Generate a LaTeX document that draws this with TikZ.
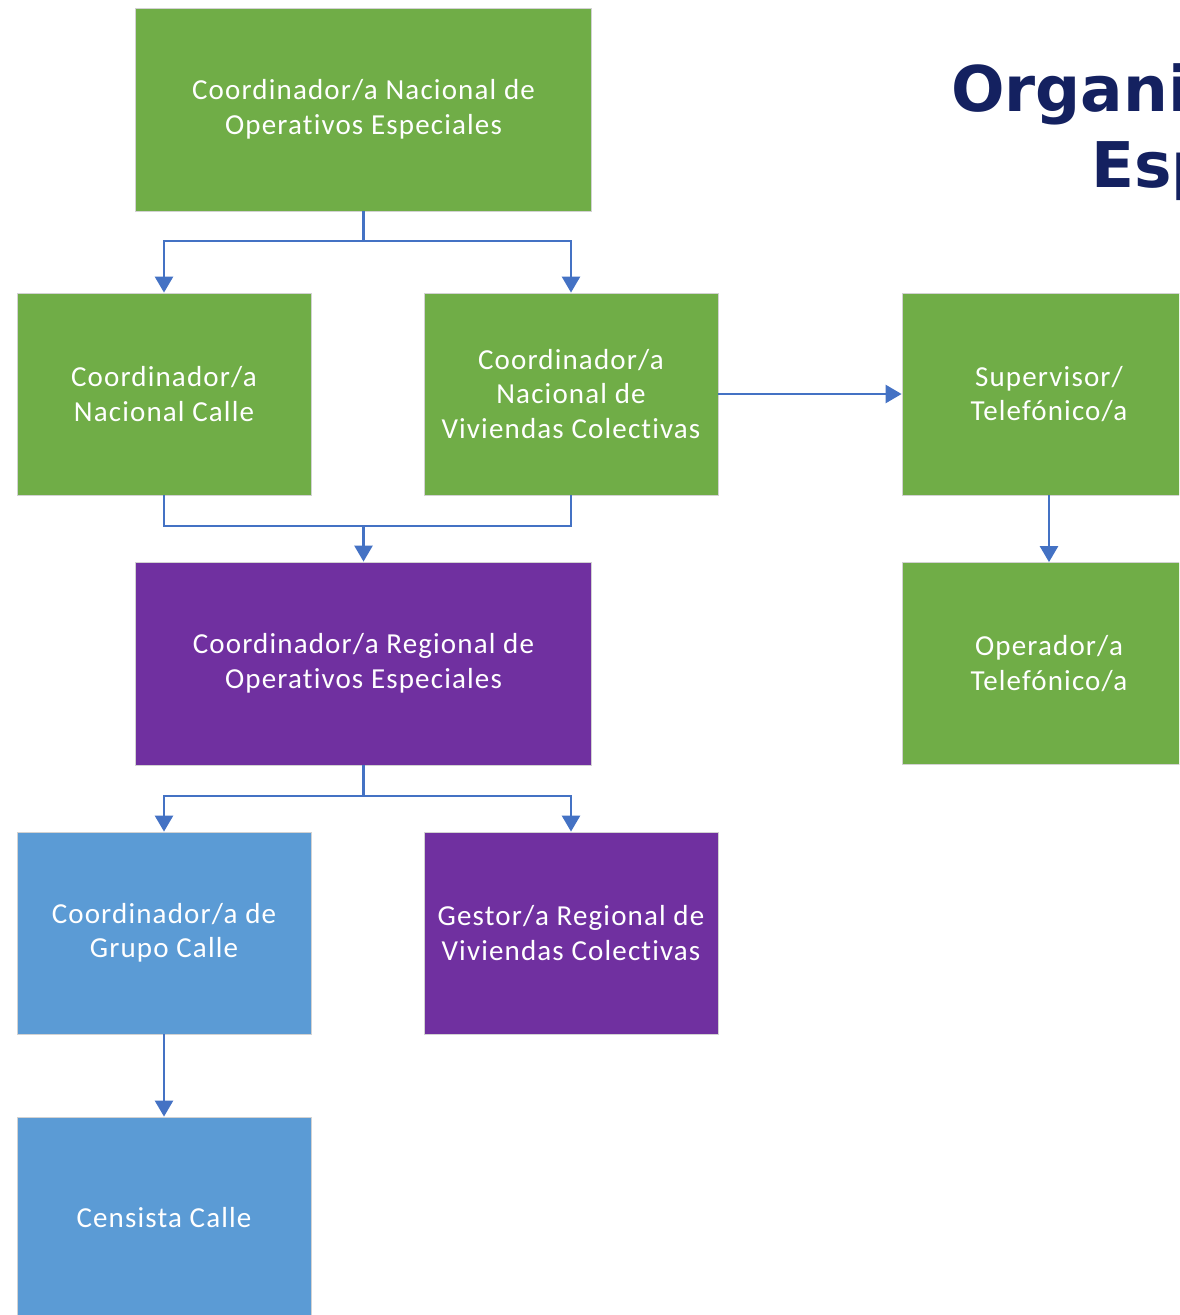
\documentclass[tikz,border=0pt]{standalone}
\usepackage{fontspec}
\setmainfont{Carlito}[LetterSpace=4,Ligatures=CommonOff]
\newfontfamily\titlefont{DejaVu Sans}
\usetikzlibrary{arrows.meta}
\definecolor{cgreen}{HTML}{70AD47}
\definecolor{cpurple}{HTML}{7030A0}
\definecolor{cblue}{HTML}{5B9BD5}
\definecolor{carrow}{HTML}{4472C4}
\definecolor{ctitle}{RGB}{20,33,96}
\tikzset{
  box/.style={rectangle, draw=gray!35, line width=0.8pt, text=white, align=center,
    inner sep=0pt, font=\fontsize{29}{34.5}\selectfont},
  wide/.style={box, minimum width=456pt, minimum height=203pt},
  narrow/.style={box, minimum width=294pt, minimum height=202pt},
  conn/.style={draw=carrow, line width=2.6pt},
  arr/.style={conn, -{Triangle[width=18pt,length=16pt]}},
  ttl/.style={text=ctitle, font=\titlefont\bfseries\fontsize{63}{75}\selectfont, inner sep=0pt}
}
\begin{document}
\begin{tikzpicture}[x=1pt,y=-1pt]
\useasboundingbox (0,0) rectangle (1179,1315);
\clip (0,0) rectangle (1179,1315);
% title
\node[ttl, anchor=base west] (t1) at (951,111) {Organi};
\node[ttl, anchor=base west] (t2) at (1091,187) {Esp};
% boxes
\node[wide, fill=cgreen] (top) at (363.5,109.5) {Coordinador/a Nacional de\\Operativos Especiales};
\node[narrow, fill=cgreen] (calle) at (164,394) {Coordinador/a\\Nacional Calle};
\node[narrow, fill=cgreen] (viv) at (571,394) {Coordinador/a\\Nacional de\\Viviendas Colectivas};
\node[narrow, fill=cgreen] (sup) at (1049,394) {Supervisor/\\Telefónico/a};
\node[wide, fill=cpurple] (reg) at (363.5,663.5) {Coordinador/a Regional de\\Operativos Especiales};
\node[narrow, fill=cgreen] (op) at (1049,663.5) {Operador/a\\Telefónico/a};
\node[narrow, fill=cblue] (grupo) at (164,933) {Coordinador/a de\\Grupo Calle};
\node[narrow, fill=cpurple] (gestor) at (571,933) {Gestor/a Regional de\\Viviendas Colectivas};
\node[narrow, fill=cblue] (cens) at (164,1218) {Censista Calle};
% connectors
\coordinate (j1) at (363.5,241);
\draw[conn] (top.south) -- (j1);
\draw[arr] (j1) -| (calle.north);
\draw[arr] (j1) -| (viv.north);
\coordinate (j2) at (363.5,526);
\draw[conn] (calle.south) |- (j2);
\draw[conn] (viv.south) |- (j2);
\draw[arr] (j2) -- (reg.north);
\draw[arr] (viv.east) -- (sup.west);
\draw[arr] (sup.south) -- (op.north);
\coordinate (j3) at (363.5,796);
\draw[conn] (reg.south) -- (j3);
\draw[arr] (j3) -| (grupo.north);
\draw[arr] (j3) -| (gestor.north);
\draw[arr] (grupo.south) -- (cens.north);
\end{tikzpicture}
\end{document}
